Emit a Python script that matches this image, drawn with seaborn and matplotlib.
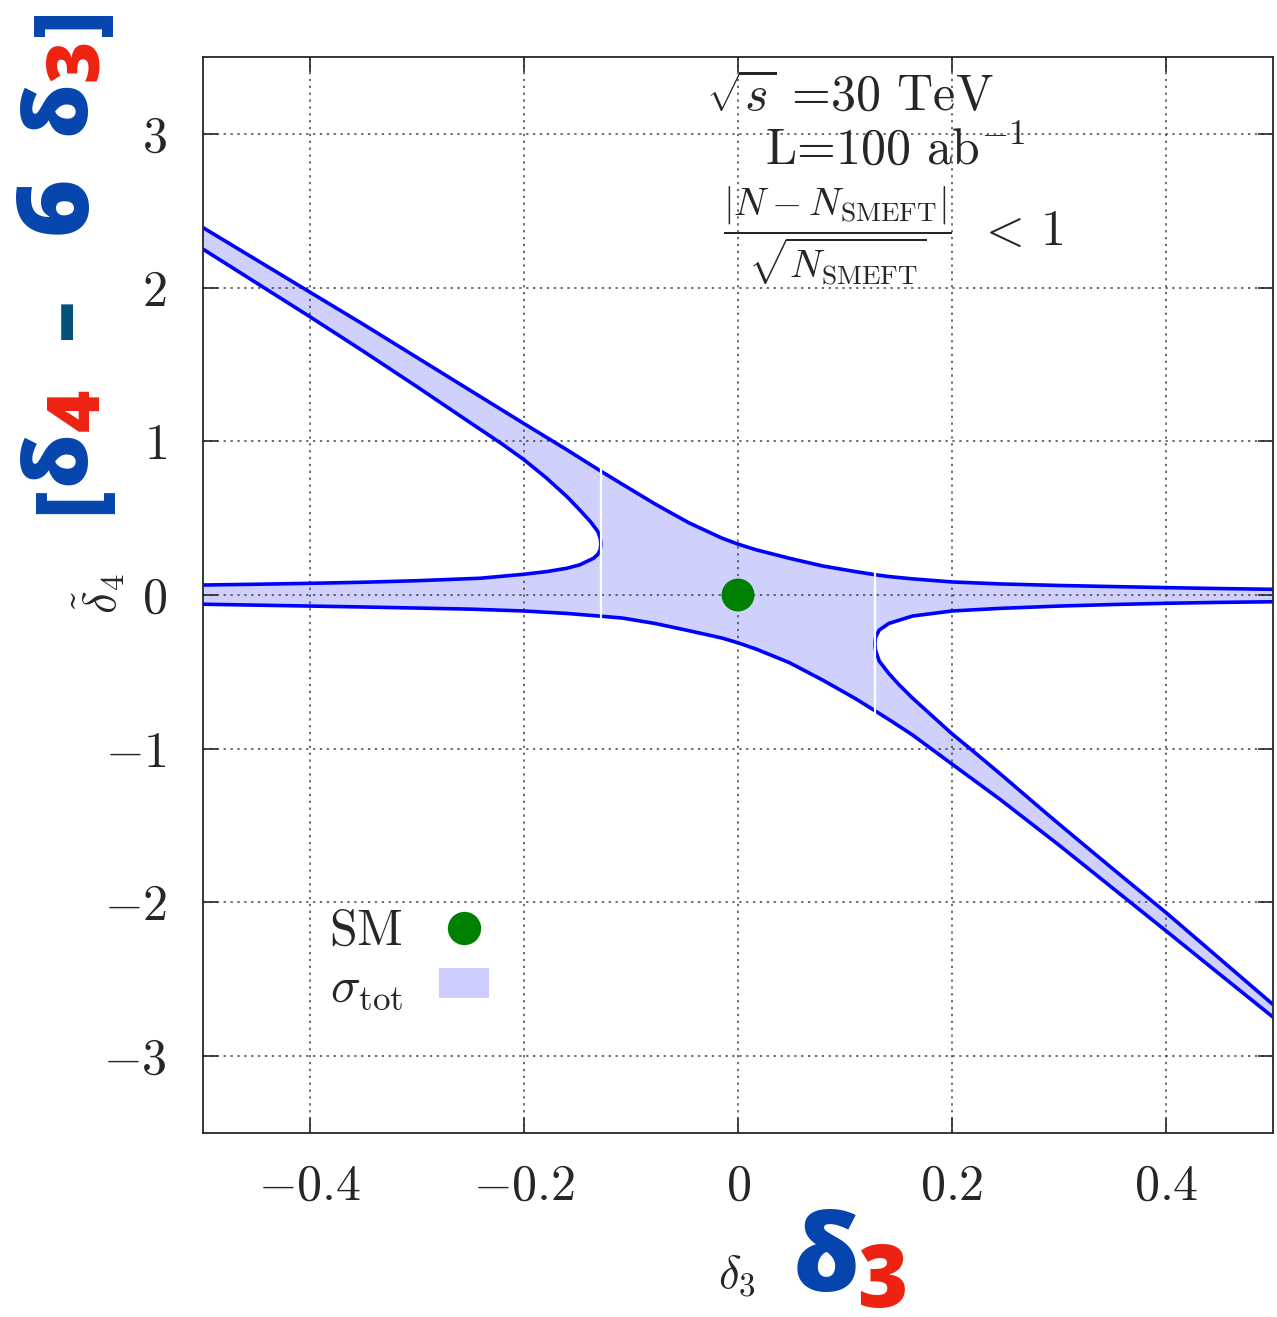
import numpy as np
import pandas as pd
import matplotlib
matplotlib.use('Agg')
import matplotlib.pyplot as plt
import seaborn as sns
from matplotlib.lines import Line2D
from matplotlib.patches import Patch

# %% data
# upper outer boundary
a_x = [-0.5, -0.45, -0.4, -0.35, -0.3, -0.25, -0.2, -0.16, -0.128, -0.108, -0.077, -0.046, -0.015,
       0.0, 0.017, 0.048, 0.079, 0.11, 0.128, 0.141, 0.163, 0.2, 0.245, 0.3, 0.35, 0.4, 0.45, 0.5]
a_y = [2.39, 2.18, 1.97, 1.76, 1.545, 1.33, 1.115, 0.945, 0.805, 0.72, 0.59, 0.47, 0.37,
       0.331, 0.294, 0.239, 0.189, 0.152, 0.132, 0.12, 0.105, 0.085, 0.072, 0.062, 0.055, 0.048, 0.042, 0.037]
# lower outer boundary (same x)
b_y = [-0.06, -0.066, -0.072, -0.078, -0.085, -0.092, -0.104, -0.12, -0.138, -0.15, -0.186, -0.232, -0.280,
       -0.311, -0.352, -0.44, -0.553, -0.675, -0.753, -0.81, -0.91, -1.10, -1.33, -1.627, -1.906, -2.185, -2.466, -2.746]
# left hole
c_x = [-0.5, -0.45, -0.4, -0.35, -0.3, -0.25, -0.22, -0.2, -0.179, -0.16, -0.148, -0.138, -0.131, -0.1288, -0.1282,
       -0.1288, -0.131, -0.135, -0.148, -0.16, -0.179, -0.2, -0.241, -0.3, -0.35, -0.4, -0.45, -0.5]
c_y = [2.25, 2.03, 1.81, 1.585, 1.355, 1.12, 0.98, 0.88, 0.761, 0.641, 0.554, 0.478, 0.413, 0.37, 0.333,
       0.294, 0.265, 0.239, 0.196, 0.174, 0.152, 0.135, 0.109, 0.093, 0.083, 0.076, 0.07, 0.065]
# right hole
d_x = [0.5, 0.45, 0.4, 0.35, 0.3, 0.245, 0.2, 0.163, 0.141, 0.132, 0.1285, 0.128,
       0.1285, 0.132, 0.141, 0.15, 0.163, 0.2, 0.217, 0.245, 0.2822, 0.3, 0.35, 0.4, 0.45, 0.5]
d_y = [-0.044, -0.048, -0.054, -0.062, -0.072, -0.087, -0.104, -0.137, -0.185, -0.228, -0.276, -0.318,
       -0.359, -0.43, -0.511, -0.58, -0.67, -0.903, -1.0, -1.163, -1.385, -1.49, -1.78, -2.066, -2.365, -2.664]
split_x = [-0.128, 0.128]
sm_x = [0.0]
sm_y = [0.0]

xticks = [-0.4, -0.2, 0, 0.2, 0.4]
xtick_labels = [r'$-0.4$', r'$-0.2$', r'$0$', r'$0.2$', r'$0.4$']
yticks = [-3, -2, -1, 0, 1, 2, 3]
ytick_labels = [r'$-3$', r'$-2$', r'$-1$', r'$0$', r'$1$', r'$2$', r'$3$']

# %%
sns.set_style('ticks')
plt.rcParams['mathtext.fontset'] = 'cm'
plt.rcParams['font.family'] = ['cmr10', 'DejaVu Serif']
plt.rcParams['axes.unicode_minus'] = False

W, H = 1277, 1317
fig = plt.figure(figsize=(W / 100, H / 100), dpi=100)
ax = fig.add_axes([203 / W, 1 - 1133 / H, 1070 / W, 1076 / H])

fillc = '#d0d0fd'
ax.fill(a_x + a_x[::-1], a_y + b_y[::-1], color=fillc, lw=0, zorder=1)
ax.fill(c_x, c_y, color='white', lw=0, zorder=1.1)
ax.fill(d_x, d_y, color='white', lw=0, zorder=1.1)

for xx, yy in [(a_x, a_y), (a_x, b_y), (c_x, c_y), (d_x, d_y)]:
    sns.lineplot(x=xx, y=yy, sort=False, estimator=None, color='#0000ff', lw=2.6, ax=ax, zorder=2)

# white seams where the pieces join
top = np.interp(split_x, a_x, a_y)
bot = np.interp(split_x, a_x, b_y)
ax.vlines(split_x, bot - 0.03, top + 0.03, color='white', lw=1.6, zorder=2.6)

sns.scatterplot(x=sm_x, y=sm_y, color='#008000', s=560, edgecolor='none', ax=ax, zorder=3)

ax.set_xlim(-0.5, 0.5)
ax.set_ylim(-3.5, 3.5)
ax.set_xticks(xticks, xtick_labels)
ax.set_yticks(yticks, ytick_labels)
ax.tick_params(direction='in', length=11, width=1.2, labelsize=36, top=True, right=True)
ax.tick_params(axis='x', pad=22)
ax.tick_params(axis='y', pad=26)
ax.set_axisbelow('line')
ax.grid(True, ls=(0, (1.5, 3)), color='#444444', lw=1.1)
for s in ax.spines.values():
    s.set_linewidth(1.3)
ax.set_xlabel(r'$\delta_3$', fontsize=34)
ax.set_ylabel(r'$\tilde{\delta}_4$', fontsize=34)
ax.xaxis.set_label_coords((737 - 203) / 1070, -(1252 - 1133) / 1076)
ax.yaxis.set_label_coords(-(203 - 127) / 1070, (1133 - 594) / 1076)

# annotation block
def ptxt(px, py, s, size):
    fig.text(px / W, 1 - py / H, s, fontsize=size, ha='center', va='center')

ptxt(850, 97, r'$\sqrt{s}$ =30 TeV', 36)
ptxt(895, 150, r'L=100 ab$^{-1}$', 36)
ptxt(837, 236, r'$\dfrac{|N-N_{\mathrm{SMEFT}}|}{\sqrt{N_{\mathrm{SMEFT}}}}$', 28)
ptxt(1020, 232, r'$<\,1$', 36)

# legend
handles = [Line2D([], [], ls='none', marker='o', ms=24, color='#008000', mec='none'),
           Patch(facecolor='#ccccff', edgecolor='none')]
ax.legend(handles, [r'$\mathrm{SM}$', r'$\sigma_{\mathrm{tot}}$'], markerfirst=False, frameon=False,
          fontsize=36, loc='center', bbox_to_anchor=((409 - 203) / 1070, (1133 - 960) / 1076),
          handlelength=1.0, handleheight=0.55, labelspacing=0.22, handletextpad=0.72)

# big coloured labels (figure pixels -> fractions)
blue, red, dash = '#0645ad', '#ee2211', '#005078'
def ftxt(px, py, s, c, size, rot=0):
    fig.text(px / W, 1 - py / H, s, color=c, fontsize=size, rotation=rot, ha='center', va='center',
             family='Open Sans', weight='heavy')

ftxt(74, 500, '[', blue, 62, 90)
ftxt(62, 458, 'δ', blue, 62, 90)
ftxt(80, 410, '4', red, 52, 90)
ftxt(66, 318, '–', dash, 60, 90)
ftxt(60, 205, '6', blue, 72, 90)
ftxt(62, 108, 'δ', blue, 62, 90)
ftxt(78, 60, '3', red, 52, 90)
ftxt(74, 22, ']', blue, 62, 90)

ftxt(826, 1264, 'δ', blue, 76)
ftxt(882, 1284, '3', red, 62)

plt.savefig('out.png', dpi=100)
